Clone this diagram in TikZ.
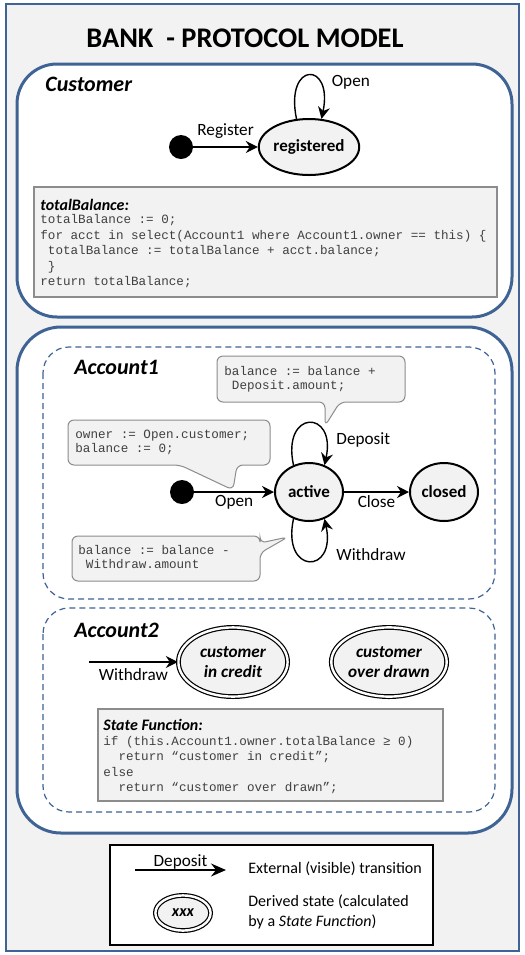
\documentclass[tikz,border=0pt]{standalone}
\usepackage{fontspec}
\setmainfont{Carlito}
\setsansfont{Carlito}
\setmonofont{Liberation Mono}
\usetikzlibrary{arrows.meta,shapes.geometric}

\definecolor{frameblue}{RGB}{62,99,148}
\definecolor{panelgray}{RGB}{242,242,242}
\definecolor{notegray}{RGB}{140,140,140}
\definecolor{codegray}{RGB}{64,64,64}

\tikzset{
  grp/.style={draw=frameblue, line width=1.5pt, fill=white, rounded corners=20pt},
  subgrp/.style={draw=frameblue, line width=0.6pt, dash pattern=on 3pt off 2pt, rounded corners=13pt},
  grplabel/.style={anchor=west, inner sep=0pt, font=\fontsize{11}{13}\selectfont\bfseries\itshape},
  state/.style={ellipse, draw, line width=1pt, fill=panelgray, inner sep=0pt,
    font=\fontsize{8.5}{10}\selectfont\bfseries},
  derived/.style={state, line width=0.6pt, double, double distance=1.2pt, align=center,
    font=\fontsize{8.6}{10}\selectfont\bfseries\itshape},
  init/.style={circle, fill=black, minimum size=12pt, inner sep=0pt},
  trans/.style={-{Stealth[length=6pt,width=6pt,inset=2pt]}, line width=0.7pt},
  lbl/.style={inner sep=1.5pt, font=\fontsize{8.6}{10}\selectfont},
  note/.style={draw=notegray, line width=0.5pt, fill=panelgray, rounded corners=3pt},
  codebox/.style={draw=notegray, line width=0.8pt, fill=panelgray},
  codehead/.style={anchor=west, inner sep=0pt, font=\fontsize{8}{9}\selectfont\bfseries\itshape},
  code/.style={anchor=north west, align=left, inner sep=0pt, text=codegray,
    font=\fontsize{6.3}{7.8}\selectfont\ttfamily},
  notecode/.style={code, font=\fontsize{6.3}{7.1}\selectfont\ttfamily},
  lgtext/.style={anchor=west, align=left, inner sep=0pt, font=\fontsize{8}{10}\selectfont},
}

\begin{document}
\begin{tikzpicture}[x=0.5pt, y=-0.5pt]
  \useasboundingbox (0,0) rectangle (525,955);

  % outer frame and title
  \draw[draw=frameblue, line width=1pt, fill=panelgray] (6,4) rectangle (519,951);
  \node[font=\fontsize{14.2}{16}\selectfont\bfseries] (title) at (245,38) {BANK\ \ - PROTOCOL MODEL};

  % ---------- Customer ----------
  \draw[grp] (17,64) rectangle (512,317);
  \node[grplabel] (custlbl) at (45,84) {Customer};

  \node[init] (cinit) at (181,147) {};
  \node[state, minimum width=45pt, minimum height=28pt] (reg) at (309,147) {registered};
  \draw[trans] (cinit) -- node[lbl, above=2.5pt] {Register} (reg);
  \draw[trans] (reg.114) .. controls +(-12,-58) and +(12,-58) ..
    node[lbl, pos=0.7, anchor=west, xshift=4.5pt] {Open} (reg.66);

  % totalBalance function
  \draw[codebox] (34,187) rectangle (497,297);
  \node[codehead] (tbhead) at (40,205) {totalBalance:};
  \node[code] (tbcode) at (40,214) {totalBalance := 0;\\
    for acct in select(Account1 where Account1.owner == this) \{\\
    \phantom{x}totalBalance := totalBalance + acct.balance;\\
    \phantom{x}\}\\
    return totalBalance;};

  % ---------- Account ----------
  \draw[grp, rounded corners=22pt] (17,327) rectangle (512,833);

  % Account1
  \draw[subgrp] (43,347) rectangle (495,599);
  \node[grplabel] (acc1lbl) at (74,367) {Account1};

  \node[init] (ainit) at (182,492) {};
  \node[state, minimum width=34pt, minimum height=29pt] (active) at (309,492) {active};
  \node[state, minimum width=34pt, minimum height=29pt] (closed) at (444,492) {closed};
  \draw[trans] (ainit) -- node[lbl, below] {Open} (active);
  \draw[trans] (active) -- node[lbl, below] {Close} (closed);
  \draw[trans] (active.120) .. controls +(-12,-56) and +(12,-56) ..
    node[lbl, pos=0.8, anchor=west, xshift=4pt, yshift=-1pt] {Deposit} (active.60);
  \draw[trans] (active.240) .. controls +(-12,56) and +(12,56) ..
    node[lbl, pos=0.8, anchor=west, xshift=4pt, yshift=-4.5pt] {Withdraw} (active.300);

  % notes on the transitions
  \draw[note] (217,356) -- (405,356) -- (405,402) -- (340,402) -- (325,426)
    -- (325,402) -- (217,402) -- cycle;
  \node[notecode] (depnote) at (224,365.5) {balance := balance +\\\phantom{x}Deposit.amount;};

  \draw[note] (68,420) -- (270,420) -- (270,465) -- (237,465) -- (233,490)
    -- (180,465) -- (68,465) -- cycle;
  \node[notecode] (opennote) at (75,429.5) {owner := Open.customer;\\balance := 0;};

  \draw[note] (72,536) -- (260,536) -- (260,543) -- (288,537) -- (260,553)
    -- (260,581) -- (72,581) -- cycle;
  \node[notecode] (wdnote) at (78,544.5) {balance := balance -\\\phantom{x}Withdraw.amount};

  % Account2
  \draw[subgrp] (43,608) rectangle (495,812);
  \node[grplabel] (acc2lbl) at (74,630) {Account2};

  \coordinate (wdin) at (89,662);
  \node[derived, minimum width=54.6pt, minimum height=34.6pt] (credit) at (233,662) {customer\\in credit};
  \node[derived, minimum width=54.6pt, minimum height=34.6pt] (overdrawn) at (389,662) {customer\\over drawn};
  \draw[trans] (wdin) -- node[lbl, below, yshift=-1.5pt] {Withdraw} (credit.west);

  % state function
  \draw[codebox] (98,709) rectangle (443,801);
  \node[codehead] (sfhead) at (103,725) {State Function:};
  \node[code] (sfcode) at (103,735.5) {if (this.Account1.owner.totalBalance ≥ 0)\\
    \phantom{xx}return “customer in credit”;\\
    else\\
    \phantom{xx}return “customer over drawn”;};

  % ---------- legend ----------
  \draw[line width=1pt, fill=white] (110,845) rectangle (433,945);
  \coordinate (lgA) at (135,870);
  \coordinate (lgB) at (226,870);
  \draw[line width=0.7pt, -{Stealth[length=7.5pt,width=6.5pt,inset=2.5pt]}] (lgA) --
    node[lbl, above, inner sep=0pt] {Deposit} (lgB);
  \node[lgtext] (lgext) at (248,869) {External (visible) transition};
  \node[derived, minimum width=27.6pt, minimum height=17.6pt,
    font=\fontsize{8}{9}\selectfont\bfseries\itshape] (lgderived) at (183,913) {xxx};
  \node[lgtext] (lgdertext) at (248,912) {Derived state (calculated\\by a \textit{State Function})};
\end{tikzpicture}
\end{document}
